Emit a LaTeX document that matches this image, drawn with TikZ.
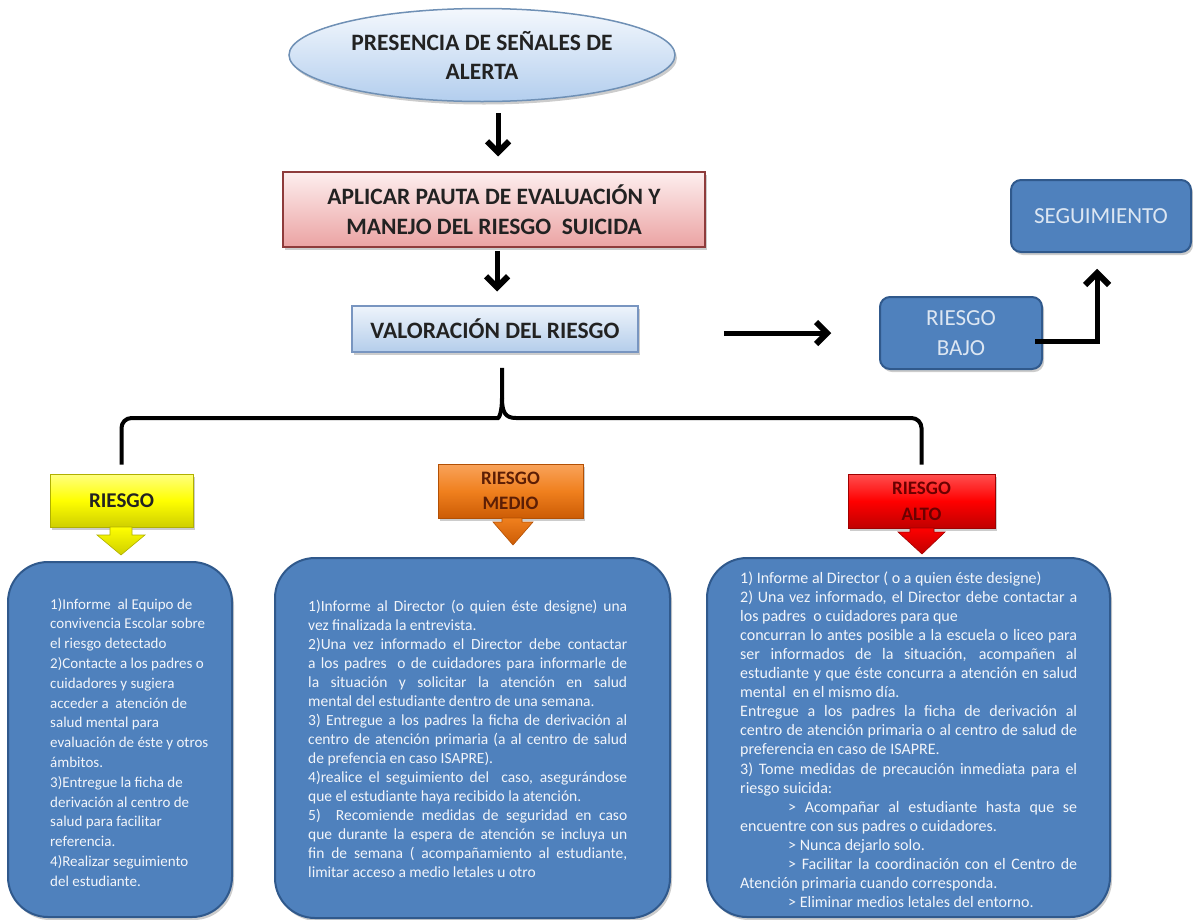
\documentclass[tikz,border=0pt]{standalone}
\usepackage{fontspec}
\setmainfont{Carlito}
\usetikzlibrary{arrows.meta,shapes.geometric,shadows}
\definecolor{darkbox}{HTML}{4F81BD}
\definecolor{darkedge}{HTML}{30598C}
\definecolor{boxtext}{HTML}{F2F5FA}
\definecolor{lighttext}{HTML}{DCE6F2}
\definecolor{titletext}{HTML}{222222}
\definecolor{ellEdge}{HTML}{6F90B5}
\definecolor{ellTop}{HTML}{F4F8FD}
\definecolor{ellBot}{HTML}{B3CEEE}
\definecolor{pinkEdge}{HTML}{8E3B3B}
\definecolor{pinkTop}{HTML}{FDEEEE}
\definecolor{pinkBot}{HTML}{EBA3A3}
\definecolor{valEdge}{HTML}{7895C0}
\definecolor{valTop}{HTML}{EEF4FB}
\definecolor{valBot}{HTML}{B4CDEB}
\definecolor{yelTop}{HTML}{FFFF80}
\definecolor{yelMid}{HTML}{FFFF00}
\definecolor{yelBot}{HTML}{CFCF00}
\definecolor{yelEdge}{HTML}{B0B000}
\definecolor{oraTop}{HTML}{F9A35B}
\definecolor{oraMid}{HTML}{F0801E}
\definecolor{oraBot}{HTML}{CC5C05}
\definecolor{oraEdge}{HTML}{B35004}
\definecolor{oraText}{HTML}{5C1E05}
\definecolor{redTop}{HTML}{FF5050}
\definecolor{redMid}{HTML}{FF0000}
\definecolor{redBot}{HTML}{C00000}
\definecolor{redEdge}{HTML}{A00000}
\definecolor{redText}{HTML}{6B0000}
\newcommand{\J}[2]{\makebox[#1][s]{#2}}
\tikzset{
  shad/.style={drop shadow={opacity=.4, shadow xshift=2pt, shadow yshift=-3pt}},
  bigline/.style={line width=5pt},
  chevron/.style={line width=6pt, line join=miter, line cap=butt},
  bracestyle/.style={line width=4pt},
  titlebox/.style={line width=1.5pt, shad, inner sep=0pt, align=center, text=titletext,
    font=\bfseries\fontsize{23.5}{29}\selectfont},
  bluebox/.style={draw=darkedge, line width=2pt, fill=darkbox, shad, inner sep=0pt,
    rounded corners=10pt, align=center, text=lighttext, font=\fontsize{23}{30}\selectfont},
  bodybox/.style={draw=darkedge, line width=2pt, fill=darkbox, shad, rounded corners=40pt},
  bodytext/.style={anchor=north west, inner sep=0pt, align=left, text=boxtext},
  labelbox/.style={line width=1pt, inner sep=0pt, align=center, shad},
}
\begin{document}
\begin{tikzpicture}[x=1pt,y=-1pt]
\useasboundingbox (0,0) rectangle (1193,919);

% ---- top chain ----
\node[titlebox, ellipse, draw=ellEdge, top color=ellTop, bottom color=ellBot,
  minimum width=386pt, minimum height=93pt] (pres) at (482,55) {PRESENCIA DE SEÑALES DE\\ALERTA};

\node[titlebox, rectangle, draw=pinkEdge, top color=pinkTop, bottom color=pinkBot,
  minimum width=422pt, minimum height=75pt, font=\bfseries\fontsize{23.5}{30}\selectfont]
  (pauta) at (494,209.5) {APLICAR PAUTA DE EVALUACIÓN Y\\MANEJO DEL RIESGO\ \ SUICIDA};

\node[titlebox, rectangle, draw=valEdge, top color=valTop, bottom color=valBot,
  minimum width=286pt, minimum height=46pt, font=\bfseries\fontsize{23.5}{30}\selectfont]
  (val) at (495,329) {VALORACIÓN DEL RIESGO};

\node[bluebox, minimum width=162pt, minimum height=72pt] (bajo) at (961,333) {RIESGO\\BAJO};
\node[bluebox, minimum width=180pt, minimum height=72pt] (seg) at (1101,216) {SEGUIMIENTO};

% ---- connectors with thick chevron heads ----
\coordinate (t1) at ([xshift=4pt,yshift=19pt]pauta.north);
\coordinate (t2) at ([xshift=2pt,yshift=18pt]val.north);
\coordinate (t3) at ([xshift=-52pt]bajo.west |- bajo.west);
\coordinate (t4) at ([xshift=-4pt,yshift=-20pt]seg.south);

\draw[bigline, shorten <=11pt] ([xshift=16pt]pres.south) -- (t1);
\draw[chevron] ([shift={(-11,-11)}]t1) -- (t1) -- ([shift={(11,-11)}]t1);
\draw[bigline, shorten <=3pt] ([xshift=3pt]pauta.south) -- (t2);
\draw[chevron] ([shift={(-11,-11)}]t2) -- (t2) -- ([shift={(11,-11)}]t2);
\draw[bigline, shorten <=85pt] (val.east |- bajo.west) -- (t3);
\draw[chevron] ([shift={(-11,-11)}]t3) -- (t3) -- ([shift={(-11,11)}]t3);
\draw[bigline, shorten <=-8pt] ([yshift=-8pt]bajo.east) -| (t4);
\draw[chevron] ([shift={(-12,12)}]t4) -- (t4) -- ([shift={(12,12)}]t4);

% ---- risk labels ----
\node[labelbox, draw=yelEdge, top color=yelTop, bottom color=yelBot, middle color=yelMid,
  minimum width=143pt, minimum height=53pt, text=titletext,
  font=\bfseries\fontsize{21}{26}\selectfont] (yel) at (121.5,500.5) {RIESGO};
\node[labelbox, draw=oraEdge, top color=oraTop, bottom color=oraBot, middle color=oraMid,
  minimum width=145pt, minimum height=54pt, text=oraText,
  font=\bfseries\fontsize{19}{25}\selectfont] (ora) at (510.5,491) {RIESGO\\MEDIO};
\node[labelbox, draw=redEdge, top color=redTop, bottom color=redBot, middle color=redMid,
  minimum width=147pt, minimum height=54pt, text=redText,
  font=\bfseries\fontsize{19}{26}\selectfont] (red) at (921.5,501) {RIESGO\\ALTO};

% brace from valoración to the labels
\draw[bracestyle] ([yshift=9pt]yel.north) [rounded corners=10pt] |- (488,418) [sharp corners]
  .. controls (499,418) and (502,412) .. (502,398) -- ([xshift=7pt,yshift=-15pt]val.south);
\draw[bracestyle] (502,398) .. controls (502,412) and (505,418) .. (516,418)
  [rounded corners=10pt] -| ([yshift=9pt]red.north);

% down arrows of the labels
\shade[top color=yelMid, bottom color=yelBot, draw=yelEdge, line width=.6pt]
  (110,527) -- (132,527) -- (132,535) -- (145,535) -- (121,555) -- (97,535) -- (110,535) -- cycle;
\shade[top color=oraMid, bottom color=oraBot, draw=oraEdge, line width=.6pt]
  (502,518) -- (522,518) -- (522,522) -- (533,522) -- (513,545) -- (493,522) -- (502,522) -- cycle;
\shade[top color=redMid, bottom color=redBot, draw=redEdge, line width=.6pt]
  (910,528) -- (934,528) -- (934,532) -- (945,532) -- (922,554) -- (898,532) -- (910,532) -- cycle;

% ---- body boxes ----
\node[bodybox, minimum width=224pt, minimum height=355pt] (lbox) at (120,739.5) {};
\node[bodybox, minimum width=395pt, minimum height=360pt] (mbox) at (472.5,738) {};
\node[bodybox, minimum width=403pt, minimum height=359pt] (rbox) at (908.5,737.5) {};

\node[bodytext, font=\fontsize{15}{19.8}\selectfont] (ltext) at (50,595) {\strut
1)Informe\ \ al Equipo de\\
convivencia Escolar sobre\\
el riesgo detectado\\
2)Contacte a los padres o\\
cuidadores y sugiera\\
acceder a\ \ atención de\\
salud mental para\\
evaluación de éste y otros\\
ámbitos.\\
3)Entregue la ficha de\\
derivación al centro de\\
salud para facilitar\\
referencia.\\
4)Realizar seguimiento\\
del estudiante.};

\node[bodytext, font=\fontsize{15.5}{19}\selectfont] (mtext) at (308,598) {\strut
\J{319pt}{1)Informe al Director (o quien éste designe) una}\\
vez finalizada la entrevista.\\
\J{319pt}{2)Una vez informado el Director debe contactar}\\
\J{319pt}{a los padres\ \ o de cuidadores para informarle de}\\
\J{319pt}{la situación y solicitar la atención en salud}\\
mental del estudiante dentro de una semana.\\
\J{319pt}{3) Entregue a los padres la ficha de derivación al}\\
\J{319pt}{centro de atención primaria (a al centro de salud}\\
de prefencia en caso ISAPRE).\\
\J{319pt}{4)realice el seguimiento del\ \ caso, asegurándose}\\
que el estudiante haya recibido la atención.\\
\J{319pt}{5)\ \ Recomiende medidas de seguridad en caso}\\
\J{319pt}{que durante la espera de atención se incluya un}\\
\J{319pt}{fin de semana ( acompañamiento al estudiante,}\\
limitar acceso a medio letales u otro};

\node[bodytext, font=\fontsize{16}{19.1}\selectfont] (rtext) at (740,569.5) {\strut
1) Informe al Director ( o a quien éste designe)\\
\J{337pt}{2) Una vez informado, el Director debe contactar a}\\
los padres\ \ o cuidadores para que\\
\J{337pt}{concurran lo antes posible a la escuela o liceo para}\\
\J{337pt}{ser informados de la situación, acompañen al}\\
\J{337pt}{estudiante y que éste concurra a atención en salud}\\
mental\ \ en el mismo día.\\
\J{337pt}{Entregue a los padres la ficha de derivación al}\\
\J{337pt}{centro de atención primaria o al centro de salud de}\\
preferencia en caso de ISAPRE.\\
\J{337pt}{3) Tome medidas de precaución inmediata para el}\\
riesgo suicida:\\
\J{337pt}{\hspace*{48pt}> Acompañar al estudiante hasta que se}\\
encuentre con sus padres o cuidadores.\\
\hspace*{48pt}> Nunca dejarlo solo.\\
\J{337pt}{\hspace*{48pt}> Facilitar la coordinación con el Centro de}\\
Atención primaria cuando corresponda.\\
\hspace*{48pt}> Eliminar medios letales del entorno.};
\end{tikzpicture}
\end{document}
